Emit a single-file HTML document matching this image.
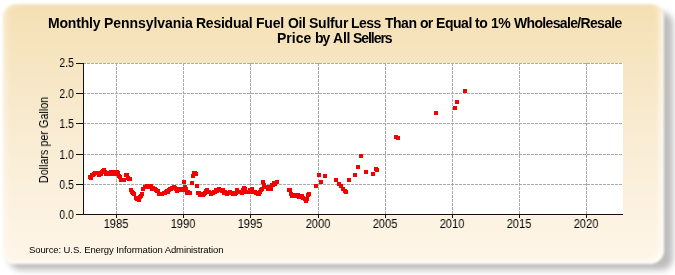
<!DOCTYPE html>
<html><head><meta charset="utf-8"><style>
html,body{margin:0;padding:0;background:#fff;width:675px;height:275px;overflow:hidden;}
body{position:relative;font-family:"Liberation Sans",sans-serif;}
.w,.xl,.yl,.ya,.src{will-change:transform;}
.shadow{position:absolute;left:9.0px;top:11.5px;width:663.5px;height:258.0px;border-radius:12px;background:rgba(0,0,0,0.26);filter:blur(3.0px);}
.panel{position:absolute;left:3px;top:4px;width:661px;height:260px;border-radius:13px 12px 14px 11px;
background:linear-gradient(to bottom,#F5E0B4 0%,#F9ECD3 50%,#FFF6E9 100%);
box-shadow:inset -5px -3px 4px rgba(255,255,255,0.6), inset 4px 0 4px rgba(255,255,255,0.35);filter:blur(0.9px);}
.w{position:absolute;font-weight:bold;font-size:14px;color:#000;white-space:nowrap;line-height:15px;}
.xl{position:absolute;top:217px;width:40px;text-align:center;font-size:12px;color:#000;line-height:14px;transform:scaleX(0.93);}
.yl{position:absolute;left:34px;width:40px;text-align:right;font-size:12px;color:#000;line-height:14px;transform:scaleX(0.88);transform-origin:right center;}
.ya{position:absolute;left:-6px;top:132.5px;width:100px;text-align:center;font-size:12px;color:#000;line-height:14px;transform:rotate(-90deg) scaleX(0.9);transform-origin:center;white-space:nowrap;}
.src{position:absolute;left:29px;top:243.5px;font-size:9.5px;letter-spacing:-0.1px;color:#000;white-space:nowrap;line-height:12px;}
svg{position:absolute;left:0;top:0;}
</style></head><body>
<div class="shadow"></div><div class="panel"></div>
<span class="w" style="left:47.96px;top:16px;letter-spacing:-0.174px">Monthly</span><span class="w" style="left:103.96px;top:16px;letter-spacing:-0.054px">Pennsylvania</span><span class="w" style="left:196.36px;top:16px;letter-spacing:-0.239px">Residual</span><span class="w" style="left:256.36px;top:16px;letter-spacing:-0.219px">Fuel</span><span class="w" style="left:287.83px;top:16px;letter-spacing:-0.417px">Oil</span><span class="w" style="left:308.80px;top:16px;letter-spacing:-0.221px">Sulfur</span><span class="w" style="left:351.46px;top:16px;letter-spacing:-0.546px">Less</span><span class="w" style="left:384.74px;top:16px;letter-spacing:-0.496px">Than</span><span class="w" style="left:419.75px;top:16px;letter-spacing:-0.725px">or</span><span class="w" style="left:435.86px;top:16px;letter-spacing:-0.461px">Equal</span><span class="w" style="left:475.23px;top:16px;letter-spacing:-0.487px">to</span><span class="w" style="left:491.02px;top:16px;letter-spacing:-0.413px">1%</span><span class="w" style="left:513.99px;top:16px;letter-spacing:-0.660px">Wholesale/Resale</span>
<span class="w" style="left:276.91px;top:31px;letter-spacing:-0.007px">Price</span><span class="w" style="left:314.68px;top:31px;letter-spacing:-1.007px">by</span><span class="w" style="left:332.55px;top:31px;letter-spacing:-0.198px">All</span><span class="w" style="left:353.40px;top:31px;letter-spacing:-1.060px">Sellers</span>
<svg width="675" height="275" viewBox="0 0 675 275">
<rect x="83" y="63" width="540" height="151" fill="#fff"/>
<g stroke="#AAAAAA" stroke-width="1" stroke-dasharray="3,1" fill="none" shape-rendering="crispEdges"><line x1="116.5" y1="63" x2="116.5" y2="214"/><line x1="183.5" y1="63" x2="183.5" y2="214"/><line x1="250.5" y1="63" x2="250.5" y2="214"/><line x1="318.5" y1="63" x2="318.5" y2="214"/><line x1="385.5" y1="63" x2="385.5" y2="214"/><line x1="452.5" y1="63" x2="452.5" y2="214"/><line x1="519.5" y1="63" x2="519.5" y2="214"/><line x1="586.5" y1="63" x2="586.5" y2="214"/><line x1="83" y1="63.5" x2="623" y2="63.5"/><line x1="83" y1="93.5" x2="623" y2="93.5"/><line x1="83" y1="123.5" x2="623" y2="123.5"/><line x1="83" y1="154.5" x2="623" y2="154.5"/><line x1="83" y1="184.5" x2="623" y2="184.5"/></g>
<g stroke="#111" stroke-width="1" fill="none" shape-rendering="crispEdges"><line x1="76" y1="63.5" x2="83" y2="63.5"/><line x1="76" y1="93.5" x2="83" y2="93.5"/><line x1="76" y1="123.5" x2="83" y2="123.5"/><line x1="76" y1="154.5" x2="83" y2="154.5"/><line x1="76" y1="184.5" x2="83" y2="184.5"/><line x1="76" y1="214.5" x2="83" y2="214.5"/><line x1="116.5" y1="214" x2="116.5" y2="218"/><line x1="183.5" y1="214" x2="183.5" y2="218"/><line x1="250.5" y1="214" x2="250.5" y2="218"/><line x1="318.5" y1="214" x2="318.5" y2="218"/><line x1="385.5" y1="214" x2="385.5" y2="218"/><line x1="452.5" y1="214" x2="452.5" y2="218"/><line x1="519.5" y1="214" x2="519.5" y2="218"/><line x1="586.5" y1="214" x2="586.5" y2="218"/>
<line x1="83.5" y1="63" x2="83.5" y2="215"/><line x1="83" y1="214.5" x2="623" y2="214.5"/></g>
<g fill="#F40000" shape-rendering="crispEdges"><rect x="87.7" y="175.2" width="4" height="4"/><rect x="88.8" y="175.6" width="4" height="4"/><rect x="89.9" y="173.2" width="4" height="4"/><rect x="91.0" y="173.3" width="4" height="4"/><rect x="92.1" y="172.3" width="4" height="4"/><rect x="93.2" y="171.3" width="4" height="4"/><rect x="94.4" y="170.8" width="4" height="4"/><rect x="95.5" y="171.3" width="4" height="4"/><rect x="96.6" y="173.0" width="4" height="4"/><rect x="97.7" y="171.8" width="4" height="4"/><rect x="98.8" y="171.5" width="4" height="4"/><rect x="100.0" y="170.4" width="4" height="4"/><rect x="101.1" y="169.2" width="4" height="4"/><rect x="102.2" y="168.0" width="4" height="4"/><rect x="103.3" y="170.4" width="4" height="4"/><rect x="104.4" y="171.5" width="4" height="4"/><rect x="105.6" y="171.7" width="4" height="4"/><rect x="106.7" y="170.6" width="4" height="4"/><rect x="107.8" y="171.4" width="4" height="4"/><rect x="108.9" y="169.7" width="4" height="4"/><rect x="110.0" y="171.7" width="4" height="4"/><rect x="111.1" y="169.6" width="4" height="4"/><rect x="112.3" y="172.2" width="4" height="4"/><rect x="113.4" y="171.6" width="4" height="4"/><rect x="114.5" y="170.3" width="4" height="4"/><rect x="115.6" y="170.8" width="4" height="4"/><rect x="116.7" y="173.6" width="4" height="4"/><rect x="117.9" y="174.5" width="4" height="4"/><rect x="119.0" y="178.2" width="4" height="4"/><rect x="120.1" y="178.1" width="4" height="4"/><rect x="121.2" y="177.7" width="4" height="4"/><rect x="122.3" y="178.0" width="4" height="4"/><rect x="123.5" y="172.7" width="4" height="4"/><rect x="124.6" y="173.2" width="4" height="4"/><rect x="125.7" y="175.8" width="4" height="4"/><rect x="126.8" y="177.2" width="4" height="4"/><rect x="127.9" y="177.4" width="4" height="4"/><rect x="129.0" y="187.6" width="4" height="4"/><rect x="130.2" y="190.1" width="4" height="4"/><rect x="131.3" y="191.1" width="4" height="4"/><rect x="132.4" y="192.3" width="4" height="4"/><rect x="133.5" y="196.1" width="4" height="4"/><rect x="134.6" y="196.9" width="4" height="4"/><rect x="135.8" y="197.1" width="4" height="4"/><rect x="136.9" y="197.5" width="4" height="4"/><rect x="138.0" y="194.8" width="4" height="4"/><rect x="139.1" y="193.9" width="4" height="4"/><rect x="140.2" y="191.8" width="4" height="4"/><rect x="141.4" y="187.3" width="4" height="4"/><rect x="142.5" y="185.4" width="4" height="4"/><rect x="143.6" y="185.0" width="4" height="4"/><rect x="144.7" y="184.4" width="4" height="4"/><rect x="145.8" y="184.7" width="4" height="4"/><rect x="146.9" y="183.9" width="4" height="4"/><rect x="148.1" y="184.3" width="4" height="4"/><rect x="149.2" y="184.1" width="4" height="4"/><rect x="150.3" y="186.5" width="4" height="4"/><rect x="151.4" y="185.6" width="4" height="4"/><rect x="152.5" y="186.9" width="4" height="4"/><rect x="153.7" y="188.2" width="4" height="4"/><rect x="154.8" y="189.0" width="4" height="4"/><rect x="155.9" y="189.3" width="4" height="4"/><rect x="157.0" y="192.0" width="4" height="4"/><rect x="158.1" y="191.5" width="4" height="4"/><rect x="159.3" y="192.1" width="4" height="4"/><rect x="160.4" y="191.6" width="4" height="4"/><rect x="161.5" y="190.8" width="4" height="4"/><rect x="162.6" y="191.4" width="4" height="4"/><rect x="163.7" y="190.2" width="4" height="4"/><rect x="164.8" y="188.8" width="4" height="4"/><rect x="166.0" y="189.7" width="4" height="4"/><rect x="167.1" y="187.7" width="4" height="4"/><rect x="168.2" y="187.4" width="4" height="4"/><rect x="169.3" y="187.0" width="4" height="4"/><rect x="170.4" y="185.6" width="4" height="4"/><rect x="171.6" y="184.6" width="4" height="4"/><rect x="172.7" y="185.5" width="4" height="4"/><rect x="173.8" y="187.1" width="4" height="4"/><rect x="174.9" y="188.7" width="4" height="4"/><rect x="176.0" y="187.6" width="4" height="4"/><rect x="177.2" y="188.1" width="4" height="4"/><rect x="178.3" y="186.9" width="4" height="4"/><rect x="179.4" y="186.5" width="4" height="4"/><rect x="180.5" y="187.7" width="4" height="4"/><rect x="181.6" y="180.0" width="4" height="4"/><rect x="182.8" y="184.6" width="4" height="4"/><rect x="183.9" y="186.6" width="4" height="4"/><rect x="185.0" y="191.0" width="4" height="4"/><rect x="186.1" y="190.4" width="4" height="4"/><rect x="187.2" y="191.3" width="4" height="4"/><rect x="188.3" y="191.0" width="4" height="4"/><rect x="189.5" y="180.7" width="4" height="4"/><rect x="190.6" y="173.5" width="4" height="4"/><rect x="191.7" y="171.4" width="4" height="4"/><rect x="192.8" y="171.1" width="4" height="4"/><rect x="193.9" y="171.9" width="4" height="4"/><rect x="195.1" y="183.8" width="4" height="4"/><rect x="196.2" y="190.5" width="4" height="4"/><rect x="197.3" y="190.9" width="4" height="4"/><rect x="198.4" y="192.6" width="4" height="4"/><rect x="199.5" y="191.9" width="4" height="4"/><rect x="200.7" y="192.6" width="4" height="4"/><rect x="201.8" y="192.1" width="4" height="4"/><rect x="202.9" y="190.8" width="4" height="4"/><rect x="204.0" y="188.6" width="4" height="4"/><rect x="205.1" y="188.1" width="4" height="4"/><rect x="206.2" y="189.9" width="4" height="4"/><rect x="207.4" y="190.0" width="4" height="4"/><rect x="208.5" y="191.9" width="4" height="4"/><rect x="209.6" y="191.0" width="4" height="4"/><rect x="210.7" y="191.4" width="4" height="4"/><rect x="211.8" y="190.2" width="4" height="4"/><rect x="213.0" y="189.5" width="4" height="4"/><rect x="214.1" y="188.2" width="4" height="4"/><rect x="215.2" y="189.0" width="4" height="4"/><rect x="216.3" y="187.9" width="4" height="4"/><rect x="217.4" y="186.6" width="4" height="4"/><rect x="218.6" y="188.4" width="4" height="4"/><rect x="219.7" y="189.1" width="4" height="4"/><rect x="220.8" y="188.3" width="4" height="4"/><rect x="221.9" y="191.1" width="4" height="4"/><rect x="223.0" y="190.3" width="4" height="4"/><rect x="224.1" y="190.5" width="4" height="4"/><rect x="225.3" y="191.7" width="4" height="4"/><rect x="226.4" y="190.8" width="4" height="4"/><rect x="227.5" y="189.7" width="4" height="4"/><rect x="228.6" y="190.8" width="4" height="4"/><rect x="229.7" y="191.0" width="4" height="4"/><rect x="230.9" y="191.6" width="4" height="4"/><rect x="232.0" y="192.3" width="4" height="4"/><rect x="233.1" y="192.1" width="4" height="4"/><rect x="234.2" y="191.0" width="4" height="4"/><rect x="235.3" y="187.8" width="4" height="4"/><rect x="236.5" y="189.6" width="4" height="4"/><rect x="237.6" y="189.9" width="4" height="4"/><rect x="238.7" y="189.8" width="4" height="4"/><rect x="239.8" y="190.6" width="4" height="4"/><rect x="240.9" y="188.3" width="4" height="4"/><rect x="242.0" y="186.0" width="4" height="4"/><rect x="243.2" y="186.5" width="4" height="4"/><rect x="244.3" y="190.2" width="4" height="4"/><rect x="245.4" y="190.2" width="4" height="4"/><rect x="246.5" y="189.6" width="4" height="4"/><rect x="247.6" y="188.1" width="4" height="4"/><rect x="248.8" y="187.9" width="4" height="4"/><rect x="249.9" y="186.9" width="4" height="4"/><rect x="251.0" y="189.7" width="4" height="4"/><rect x="252.1" y="189.9" width="4" height="4"/><rect x="253.2" y="190.1" width="4" height="4"/><rect x="254.4" y="190.8" width="4" height="4"/><rect x="255.5" y="191.5" width="4" height="4"/><rect x="256.6" y="191.8" width="4" height="4"/><rect x="257.7" y="189.9" width="4" height="4"/><rect x="258.8" y="188.2" width="4" height="4"/><rect x="260.0" y="186.5" width="4" height="4"/><rect x="261.1" y="180.2" width="4" height="4"/><rect x="262.2" y="182.5" width="4" height="4"/><rect x="263.3" y="184.5" width="4" height="4"/><rect x="264.4" y="184.9" width="4" height="4"/><rect x="265.5" y="186.5" width="4" height="4"/><rect x="266.7" y="185.3" width="4" height="4"/><rect x="267.8" y="185.5" width="4" height="4"/><rect x="268.9" y="187.1" width="4" height="4"/><rect x="270.0" y="183.3" width="4" height="4"/><rect x="271.1" y="182.7" width="4" height="4"/><rect x="272.3" y="180.5" width="4" height="4"/><rect x="273.4" y="181.9" width="4" height="4"/><rect x="274.5" y="180.0" width="4" height="4"/><rect x="286.8" y="188.2" width="4" height="4"/><rect x="287.9" y="188.0" width="4" height="4"/><rect x="289.0" y="191.6" width="4" height="4"/><rect x="290.2" y="193.7" width="4" height="4"/><rect x="291.3" y="193.4" width="4" height="4"/><rect x="292.4" y="193.4" width="4" height="4"/><rect x="293.5" y="193.9" width="4" height="4"/><rect x="294.6" y="194.3" width="4" height="4"/><rect x="295.8" y="193.2" width="4" height="4"/><rect x="296.9" y="194.9" width="4" height="4"/><rect x="298.0" y="195.1" width="4" height="4"/><rect x="299.1" y="194.1" width="4" height="4"/><rect x="300.2" y="194.4" width="4" height="4"/><rect x="301.3" y="196.0" width="4" height="4"/><rect x="302.5" y="196.7" width="4" height="4"/><rect x="303.6" y="198.8" width="4" height="4"/><rect x="304.7" y="197.3" width="4" height="4"/><rect x="305.8" y="193.2" width="4" height="4"/><rect x="306.9" y="192.1" width="4" height="4"/><rect x="314.0" y="184.0" width="4" height="4"/><rect x="317.0" y="173.0" width="4" height="4"/><rect x="319.0" y="180.0" width="4" height="4"/><rect x="323.0" y="174.0" width="4" height="4"/><rect x="334.0" y="178.0" width="4" height="4"/><rect x="336.5" y="181.5" width="4" height="4"/><rect x="338.5" y="184.0" width="4" height="4"/><rect x="340.5" y="186.5" width="4" height="4"/><rect x="342.5" y="188.5" width="4" height="4"/><rect x="344.0" y="190.0" width="4" height="4"/><rect x="347.0" y="178.0" width="4" height="4"/><rect x="353.0" y="172.7" width="4" height="4"/><rect x="356.2" y="164.8" width="4" height="4"/><rect x="358.9" y="153.9" width="4" height="4"/><rect x="363.9" y="169.8" width="4" height="4"/><rect x="370.7" y="171.8" width="4" height="4"/><rect x="374.4" y="167.1" width="4" height="4"/><rect x="375.3" y="168.0" width="4" height="4"/><rect x="393.8" y="134.7" width="4" height="4"/><rect x="396.2" y="135.7" width="4" height="4"/><rect x="434.0" y="111.0" width="4" height="4"/><rect x="452.7" y="106.0" width="4" height="4"/><rect x="455.0" y="100.0" width="4" height="4"/><rect x="463.0" y="89.0" width="4" height="4"/></g>
</svg>
<div class="xl" style="left:96px">1985</div><div class="xl" style="left:163px">1990</div><div class="xl" style="left:230px">1995</div><div class="xl" style="left:298px">2000</div><div class="xl" style="left:365px">2005</div><div class="xl" style="left:432px">2010</div><div class="xl" style="left:499px">2015</div><div class="xl" style="left:566px">2020</div><div class="yl" style="top:56px">2.5</div><div class="yl" style="top:87px">2.0</div><div class="yl" style="top:117px">1.5</div><div class="yl" style="top:148px">1.0</div><div class="yl" style="top:178px">0.5</div><div class="yl" style="top:208px">0.0</div>
<div class="ya">Dollars per Gallon</div>
<div class="src">Source: U.S. Energy Information Administration</div>
</body></html>
